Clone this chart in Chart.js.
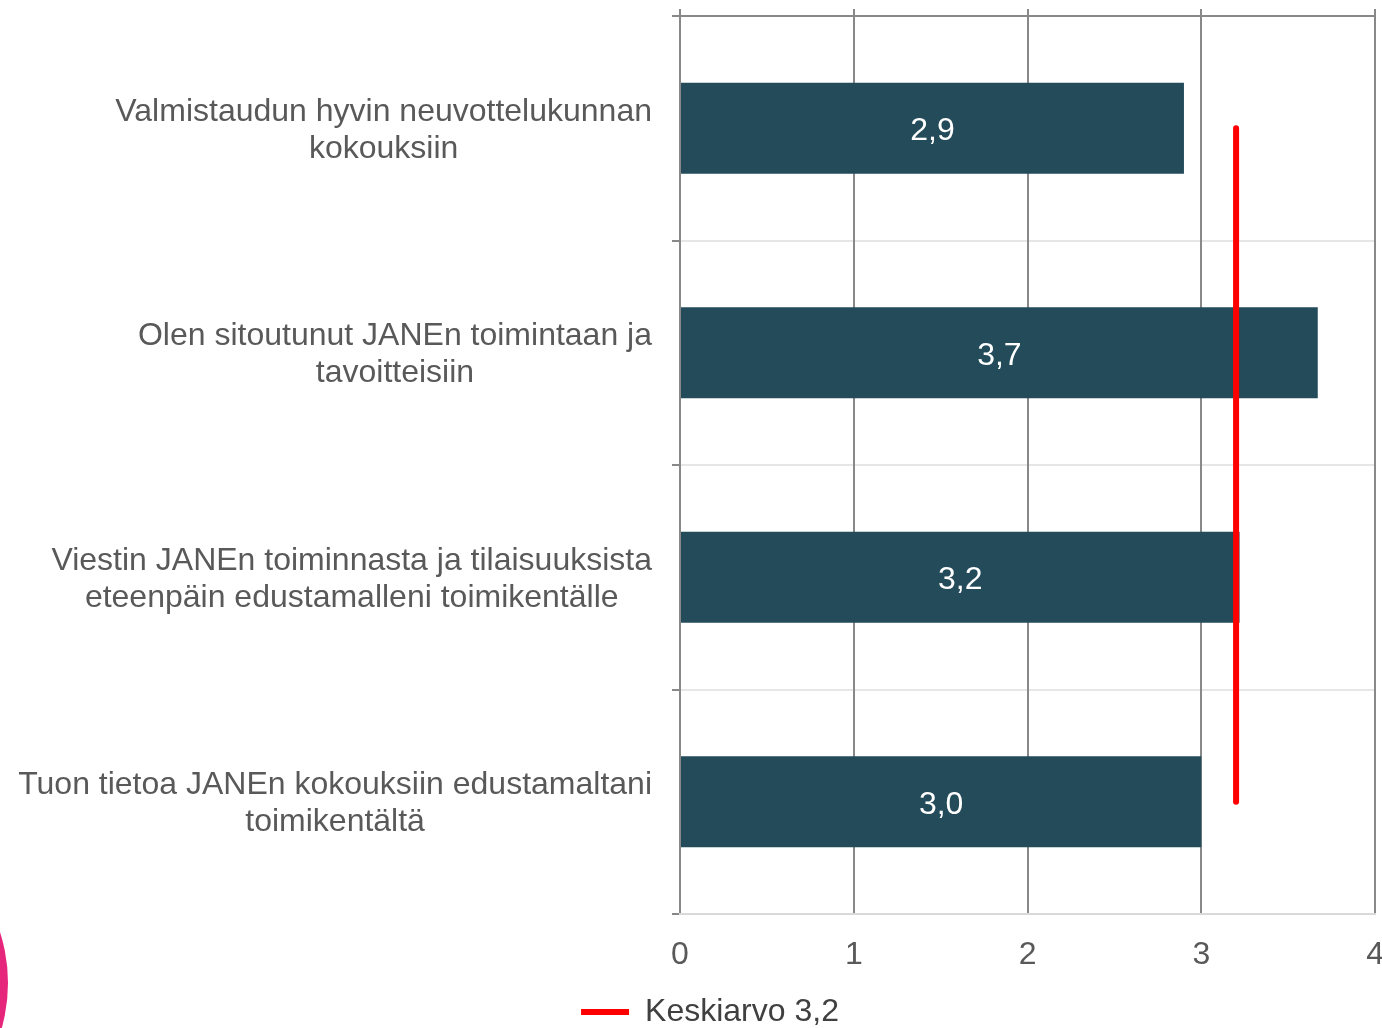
<!DOCTYPE html>
<html>
<head>
<meta charset="utf-8">
<script src="https://cdn.jsdelivr.net/npm/chart.js@4.4.0/dist/chart.umd.min.js"></script>
<style>
  html, body { margin: 0; padding: 0; overflow: hidden; background: #fff; }
  #wrap { position: relative; width: 1382px; height: 1028px; overflow: hidden; }
  #blob { position: absolute; left: -326px; top: 816px; width: 334px; height: 334px; border-radius: 50%; background: #e6267b; }
  canvas { position: absolute; left: 0; top: 0; }
</style>
</head>
<body>
<div id="wrap">
  <canvas id="chart" width="1406" height="1038"></canvas>
  <div id="blob"></div>
</div>
<script>
// data
const categories = [
    ["Valmistaudun hyvin neuvottelukunnan", "kokouksiin"],
    ["Olen sitoutunut JANEn toimintaan ja", "tavoitteisiin"],
    ["Viestin JANEn toiminnasta ja tilaisuuksista", "eteenpäin edustamalleni toimikentälle"],
    ["Tuon tietoa JANEn kokouksiin edustamaltani", "toimikentältä"]
];
const values = [2.9, 3.67, 3.22, 3.0];
const averageSeries = [3.2, 3.2, 3.2, 3.2];
const averageLabel = "Keskiarvo 3,2";
const xMin = 0;
const xMax = 4;

const FONT = '"Liberation Sans", Arial, sans-serif';
Chart.defaults.font.family = FONT;
Chart.defaults.font.size = 32;
Chart.defaults.color = "#595959";

const fmt = (v) => v.toFixed(1).replace(".", ",");

// category labels: block right-aligned to the axis, lines centred inside the block
const categoryLabels = {
    id: "categoryLabels",
    afterDraw(chart) {
        const ctx = chart.ctx;
        const yScale = chart.scales.y;
        const right = chart.chartArea.left - 28;
        const lineGap = 37;
        ctx.save();
        ctx.font = "32px " + FONT;
        ctx.fillStyle = "#595959";
        ctx.textAlign = "center";
        ctx.textBaseline = "middle";
        categories.forEach((lines, i) => {
            const w = Math.max(...lines.map(l => ctx.measureText(l).width));
            const cx = right - w / 2;
            const cy = yScale.getPixelForValue(i) + 2;
            const start = cy - (lines.length - 1) * lineGap / 2;
            lines.forEach((l, j) => ctx.fillText(l, cx, start + j * lineGap));
        });
        ctx.restore();
    }
};

// value labels in the middle of each bar
const barLabels = {
    id: "barLabels",
    afterDatasetsDraw(chart) {
        const ctx = chart.ctx;
        const meta = chart.getDatasetMeta(0);
        ctx.save();
        ctx.font = "32px " + FONT;
        ctx.fillStyle = "#ffffff";
        ctx.textAlign = "center";
        ctx.textBaseline = "middle";
        meta.data.forEach((bar, i) => {
            ctx.fillText(fmt(values[i]), (bar.x + bar.base) / 2, bar.y + 3);
        });
        ctx.restore();
    }
};

new Chart(document.getElementById("chart"), {
    type: "bar",
    data: {
        labels: categories.map(c => c.join(" ")),
        datasets: [{
            label: "Arvo",
            data: values,
            backgroundColor: "#234b5a",
            categoryPercentage: 1,
            barPercentage: 0.405,
            order: 1
        }, {
            type: "line",
            label: averageLabel,
            data: averageSeries,
            indexAxis: "y",
            borderColor: "#ff0000",
            borderWidth: 6,
            borderCapStyle: "round",
            pointRadius: 0,
            fill: false,
            order: 0
        }]
    },
    options: {
        indexAxis: "y",
        responsive: false,
        animation: false,
        layout: { padding: { top: 9, left: 14, right: 0, bottom: 0 } },
        scales: {
            y: {
                ticks: { display: false },
                grid: { color: "#e6e6e6", lineWidth: 2, tickColor: "#888888", tickLength: 8 },
                border: { color: "#888888", width: 2 },
                afterFit: (scale) => { scale.width = 666; }
            },
            x: {
                position: "bottom",
                min: xMin,
                max: xMax,
                ticks: { stepSize: 1, padding: 22, color: "#595959" },
                grid: { color: "#888888", lineWidth: 2, drawTicks: false },
                border: { color: "#d9d9d9", width: 2 },
                afterFit: (scale) => { scale.height = 82; }
            },
            x2: {
                position: "top",
                min: xMin,
                max: xMax,
                ticks: { display: false, stepSize: 1 },
                grid: { drawOnChartArea: false, color: "#888888", lineWidth: 2, tickLength: 7 },
                border: { color: "#888888", width: 2 }
            }
        },
        plugins: {
            tooltip: { enabled: false },
            legend: {
                position: "bottom",
                labels: {
                    filter: (item) => item.datasetIndex === 1,
                    usePointStyle: true,
                    pointStyle: "line",
                    pointStyleWidth: 48,
                    padding: 0,
                    color: "#404040",
                    font: { size: 32 }
                }
            }
        }
    },
    plugins: [categoryLabels, barLabels]
});
</script>
</body>
</html>
